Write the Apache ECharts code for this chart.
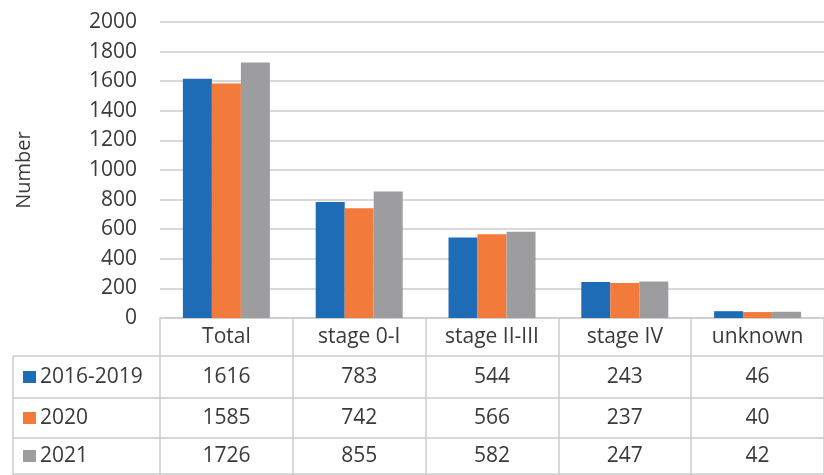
<!DOCTYPE html>
<html>
<head>
<meta charset="utf-8">
<script src="https://cdn.jsdelivr.net/npm/echarts@6/dist/echarts.min.js"></script>
<style>
  html, body { margin: 0; padding: 0; background: #fff; }
  #chart { width: 824px; height: 475px; }
</style>
</head>
<body>
<div id="chart"></div>
<script>
const categories = ['Total', 'stage 0-I', 'stage II-III', 'stage IV', 'unknown'];
const seriesNames = ['2016-2019', '2020', '2021'];
const values2016to2019 = [1616, 783, 544, 243, 46];
const values2020 = [1585, 742, 566, 237, 40];
const values2021 = [1726, 855, 582, 247, 42];
const yMin = 0, yMax = 2000, yStep = 200;

const colors = ['#1f6cb6', '#f27b3b', '#9d9d9f'];
const seriesValues = [values2016to2019, values2020, values2021];
const font = 'Open Sans';
const textColor = '#3a3a3a';
const lineColor = '#cbcbcb';

let myChart = echarts.init(document.getElementById('chart'), null, { renderer: 'canvas' });

let option = {
  animation: false,
  textStyle: { fontFamily: font },
  grid: { left: 160, right: 0, top: 22, bottom: 157, containLabel: false, outerBoundsMode: 'none' },
  xAxis: {
    type: 'category',
    data: categories,
    axisLine: { show: true, lineStyle: { color: lineColor, width: 1.5 } },
    axisTick: { show: true, length: 157, alignWithLabel: false, lineStyle: { color: lineColor, width: 1.5 } },
    axisLabel: { color: textColor, fontSize: 21, fontFamily: font, margin: 19, verticalAlign: 'middle' }
  },
  yAxis: {
    type: 'value',
    min: yMin,
    max: yMax,
    interval: yStep,
    name: 'Number',
    nameLocation: 'middle',
    nameRotate: 90,
    nameGap: 126,
    nameTextStyle: { color: textColor, fontSize: 20, fontFamily: font },
    axisLine: { show: false },
    axisTick: { show: false },
    axisLabel: { color: textColor, fontSize: 21, fontFamily: font, margin: 23, formatter: v => String(v) },
    splitLine: { lineStyle: { color: lineColor, width: 1.5 } }
  },
  series: seriesNames.map((name, i) => ({
    name: name,
    type: 'bar',
    data: seriesValues[i],
    barWidth: 29,
    barGap: '0%',
    itemStyle: { color: colors[i] }
  }))
};
myChart.setOption(option);

// data table below the axis
const rowLines = [356, 398, 438, 474];
const tableLeft = 13;
const graphics = [];
rowLines.forEach(y => {
  graphics.push({
    type: 'line',
    shape: { x1: tableLeft, y1: y, x2: 824, y2: y },
    style: { stroke: lineColor, lineWidth: 1.5 }
  });
});
graphics.push({
  type: 'line',
  shape: { x1: tableLeft, y1: rowLines[0], x2: tableLeft, y2: 475 },
  style: { stroke: lineColor, lineWidth: 1.5 }
});
seriesNames.forEach((name, i) => {
  const yc = (rowLines[i] + rowLines[i + 1]) / 2;
  graphics.push({
    type: 'rect',
    shape: { x: 23, y: yc - 6, width: 13, height: 12 },
    style: { fill: colors[i] }
  });
  graphics.push({
    type: 'text',
    x: 40,
    y: yc,
    style: {
      text: name, fill: textColor, font: '21px "' + font + '"',
      align: 'left', verticalAlign: 'middle'
    }
  });
  categories.forEach((cat, j) => {
    const xc = myChart.convertToPixel({ xAxisIndex: 0 }, cat);
    graphics.push({
      type: 'text',
      x: xc,
      y: yc,
      style: {
        text: String(seriesValues[i][j]), fill: textColor, font: '21px "' + font + '"',
        align: 'center', verticalAlign: 'middle'
      }
    });
  });
});
myChart.setOption({ graphic: graphics });
</script>
</body>
</html>
